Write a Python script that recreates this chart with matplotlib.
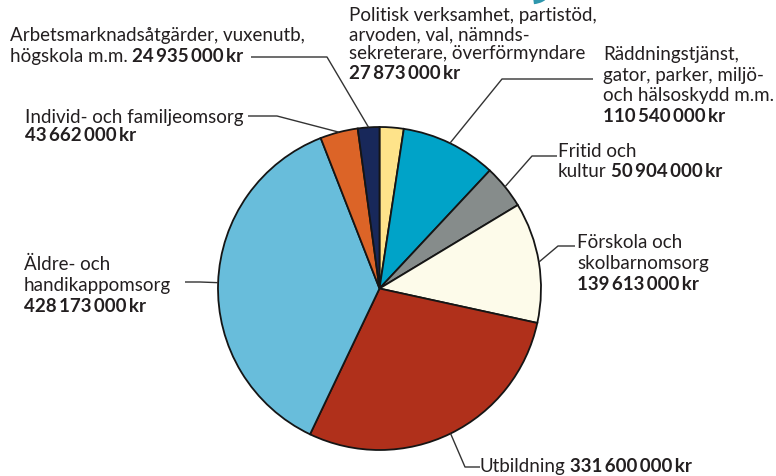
import numpy as np
import matplotlib.pyplot as plt
from matplotlib.patches import Arc

# Kommunens kostnader per verksamhet (kr)
names = ["Politisk verksamhet", "Räddningstjänst", "Fritid och kultur",
         "Förskola och skolbarnomsorg", "Utbildning",
         "Äldre- och handikappomsorg", "Individ- och familjeomsorg",
         "Arbetsmarknadsåtgärder"]
values = [27873000, 110540000, 50904000, 139613000, 331600000,
          428173000, 43662000, 24935000]
colors = ["#fee38a", "#00a3c8", "#868c8b", "#fdfbea", "#b0301b",
          "#68bddb", "#dc6427", "#18285a"]

# label text: list of (regular part, bold part) lines
label_lines = [
    [("Politisk verksamhet, partistöd,", ""), ("arvoden, val, nämnds-", ""),
     ("sekreterare, överförmyndare", ""), ("", "27 873 000 kr")],
    [("Räddningstjänst,", ""), ("gator, parker, miljö-", ""),
     ("och hälsoskydd m.m.", ""), ("", "110 540 000 kr")],
    [("Fritid och", ""), ("kultur", "50 904 000 kr")],
    [("Förskola och", ""), ("skolbarnomsorg", ""), ("", "139 613 000 kr")],
    [("Utbildning", "331 600 000 kr")],
    [("Äldre- och", ""), ("handikappomsorg", ""), ("", "428 173 000 kr")],
    [("Individ- och familjeomsorg", ""), ("", "43 662 000 kr")],
    [("Arbetsmarknadsåtgärder, vuxenutb,", ""), ("högskola m.m.", "24 935 000 kr")],
]

W, H = 776, 477
CX, CY, R = 379.5, 289.5, 161.5

# layout (pixel coords from top): text x, baselines
label_pos = [
    (349, [21, 40, 59, 79]),
    (603, [60, 81, 101, 122]),
    (558, [157, 177]),
    (577, [248, 269, 290]),
    (480, [472]),
    (24, [270, 291, 312]),
    (25, [123, 141]),
    (10, [41, 62]),
]
# leader lines: (start, elbow) in pixel coords, end on wedge middle
leaders = {
    7: ((251, 58), (327, 58)),
    6: ((248, 117), (277, 117)),
    1: ((593, 80), (502, 80)),
    2: ((557, 157), (532, 157)),
    3: ((575, 247), (558, 247)),
    4: ((480, 468), (465, 468)),
    5: ((185, 283), (200, 283)),
}

plt.rcParams['font.family'] = ['Lato', 'DejaVu Sans']
txt_color = "#231f20"
fs = 13.5


def narrow(s):
    # digit groups are set with a narrow space in the original
    return s.replace(" ", "\u2009")


fig = plt.figure(figsize=(W / 100, H / 100), dpi=100)
ax = fig.add_axes([0, 0, 1, 1])

wedges, _ = ax.pie(values, colors=colors, startangle=90, counterclock=False,
                   center=(CX, H - CY), radius=R,
                   wedgeprops=dict(edgecolor="#151515", linewidth=1.3))
ax.set_xlim(0, W)
ax.set_ylim(0, H)
ax.set_aspect('equal')
ax.axis('off')

# leader lines to the middle of each wedge
for i, (start, elbow) in leaders.items():
    w = wedges[i]
    mid = np.deg2rad((w.theta1 + w.theta2) / 2)
    ex = CX + R * np.cos(mid)
    ey = (H - CY) + R * np.sin(mid)
    ax.plot([start[0], elbow[0], ex], [H - start[1], H - elbow[1], ey],
            color="#333333", lw=1.0, solid_capstyle='butt')

# labels
for lines, (x, ys) in zip(label_lines, label_pos):
    for (reg, bold), y in zip(lines, ys):
        if reg:
            t = ax.text(x, H - y, reg, fontsize=fs, color=txt_color,
                        fontweight='normal', va='baseline', ha='left')
            if bold:
                ax.annotate(narrow(bold), xy=(1, 0), xycoords=t, xytext=(3, 0),
                            textcoords='offset points', fontsize=fs,
                            color=txt_color, fontweight='bold',
                            va='bottom', ha='left')
        else:
            ax.text(x, H - y, narrow(bold), fontsize=fs, color=txt_color,
                    fontweight='bold', va='baseline', ha='left')

# small cut-off logo mark at the top edge
ax.add_patch(Arc((530, H + 5), 32, 16, theta1=295, theta2=355,
                 color="#2f97ad", lw=3.5, clip_on=False))

fig.savefig("out.png", dpi=100)
